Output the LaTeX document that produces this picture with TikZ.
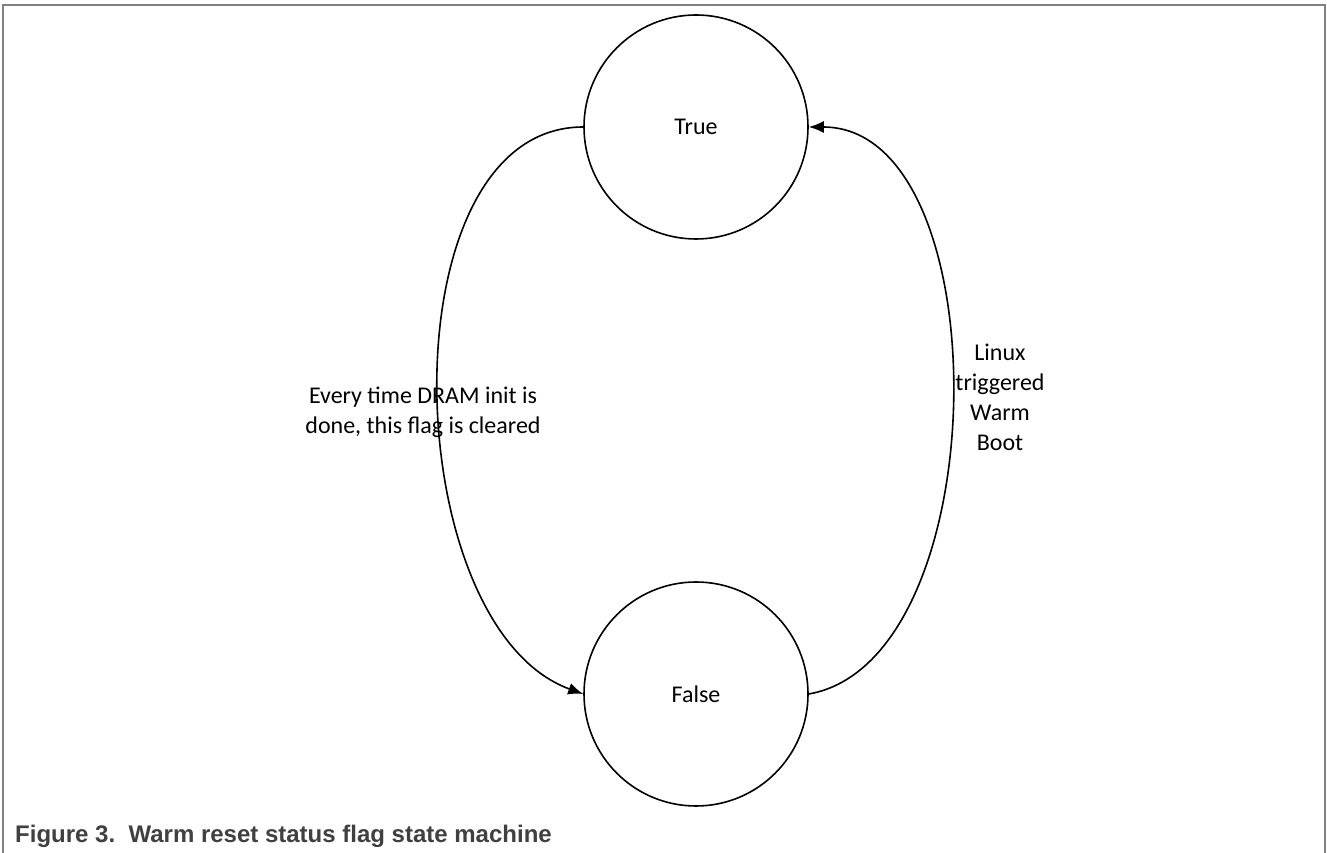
\documentclass[tikz,border=0pt]{standalone}
\usepackage{fontspec}
\setmainfont{Carlito}
\newfontfamily\capfont{Liberation Sans}
\usepackage{tikz}
\usetikzlibrary{arrows.meta,automata}
\definecolor{framegray}{RGB}{128,128,128}
\definecolor{capgray}{RGB}{64,64,64}

\begin{document}
\begin{tikzpicture}[x=1pt,y=1pt,node distance=567pt, >={Latex[length=15pt,width=12pt]}]
			\tikzstyle{every state}=[draw, line width=1.6pt, minimum size=224pt, inner sep=0pt, font=\fontsize{24}{29}\selectfont]
			\tikzstyle{lbl}=[align=center, font=\fontsize{24}{30}\selectfont]
			\useasboundingbox (0,0) rectangle (1327,853);
			%Frame
			\draw[framegray, line width=2pt] (3,0) -- (3,848) -- (1325,848) -- (1325,0);
			%States
			\node[state](tru) at (696,726){True};
			\node[state](fls)[below of = tru]{False};
			%Labels
			\node[lbl](clr) at (423,441){Every time DRAM init is\\done, this flag is cleared};
			\node[lbl](wrm) at (1000,456){Linux\\triggered\\Warm\\Boot};
			%Arrows
			\draw[line width=1.6pt, ->](tru.west) to [out=180, in=160, looseness=0.9] (fls.west);
			\draw[line width=1.6pt, ->](fls.east) to [out=10, in=0, looseness=0.87] (tru.east);
			%Caption
			\node[anchor=base west, inner sep=0pt, text=capgray, font=\capfont\bfseries\fontsize{24}{28}\selectfont](cap) at (15,10){Figure 3.\ \ Warm reset status flag state machine};
\end{tikzpicture}
\end{document}
